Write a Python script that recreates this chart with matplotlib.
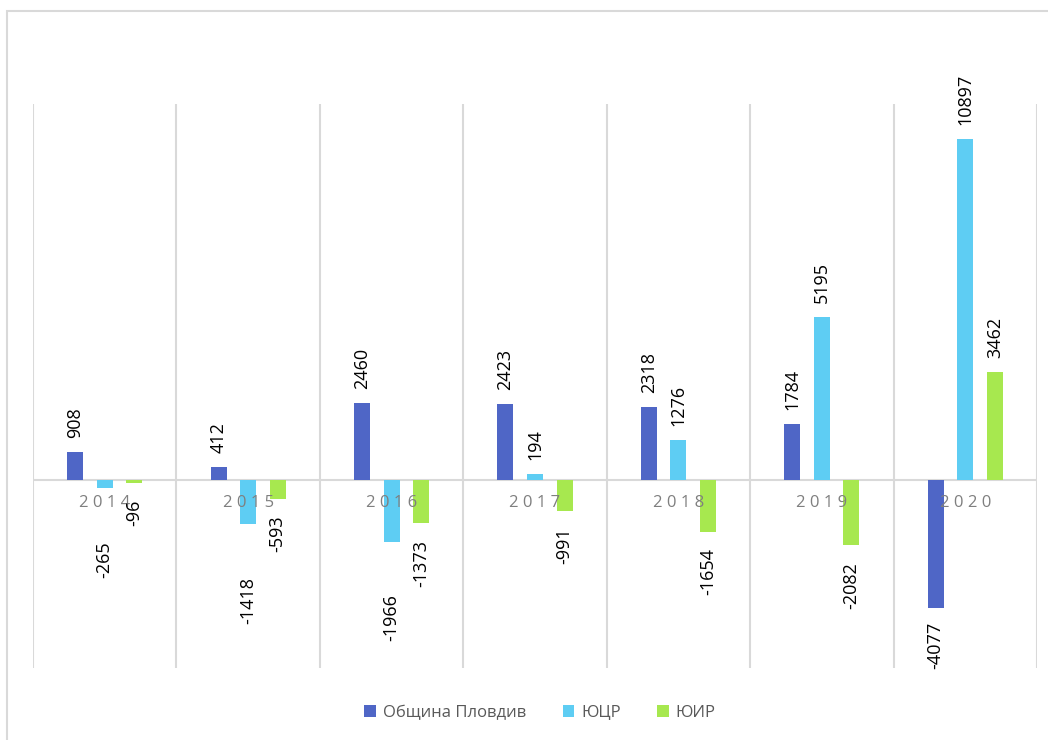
import numpy as np
import matplotlib
matplotlib.use('Agg')
import matplotlib.pyplot as plt
from matplotlib.patches import Rectangle

plt.rcParams['font.family'] = ['Open Sans', 'DejaVu Sans']

years = ['2014', '2015', '2016', '2017', '2018', '2019', '2020']
series_names = ['Община Пловдив', 'ЮЦР', 'ЮИР']
plovdiv = [908, 412, 2460, 2423, 2318, 1784, -4077]
yucr = [-265, -1418, -1966, 194, 1276, 5195, 10897]
yuir = [-96, -593, -1373, -991, -1654, -2082, 3462]

colors = ['#4f66c6', '#5ecdf3', '#a7e84f']
neg_pad = [10, 38, 12]   # label gap below negative bars, points

fig = plt.figure(figsize=(10.48, 7.4), dpi=100)
fig.patches.append(Rectangle((7 / 1048, -0.1), 1.2, 1.1 - 11 / 740, transform=fig.transFigure,
                             facecolor='none', edgecolor='#d9d9d9', linewidth=1.5))
ax = fig.add_axes([33 / 1048, 1 - 668 / 740, (1037 - 33) / 1048, (668 - 104) / 740])

x = np.arange(len(years))
offsets = [-0.206, 0, 0.206]
width = 0.112

for k, vals in enumerate([plovdiv, yucr, yuir]):
    bars = ax.bar(x + offsets[k], vals, width=width, color=colors[k], label=series_names[k], zorder=3)
    for b, v in zip(bars, vals):
        cx = b.get_x() + b.get_width() / 2
        if v >= 0:
            ax.annotate(str(v), (cx, v), xytext=(0, 10), textcoords='offset points',
                        rotation=90, ha='center', va='bottom', fontsize=13, color='black', zorder=5)
        else:
            ax.annotate(str(v), (cx, v), xytext=(0, -neg_pad[k]), textcoords='offset points',
                        rotation=90, ha='center', va='top', fontsize=13, color='black', zorder=5)

# category labels sit on the zero line, above the bars
for i, yr in enumerate(years):
    ax.annotate(' '.join(yr), (i, 0), xytext=(0, -11), textcoords='offset points',
                ha='center', va='top', fontsize=12, color='#7f7f7f', zorder=4)

ax.set_xlim(-0.5, len(years) - 0.5)
ax.set_ylim(-6000, 12000)
for b in np.arange(-0.5, len(years), 1):
    ax.axvline(b, color='#d9d9d9', linewidth=1.5, zorder=1)
ax.axhline(0, color='#d9d9d9', linewidth=1.5, zorder=1)
ax.set_xticks([])
ax.set_yticks([])
for s in ax.spines.values():
    s.set_visible(False)

fig.legend(loc='center', bbox_to_anchor=(540 / 1048, 1 - 713 / 740), ncol=3, frameon=False,
           fontsize=12, labelcolor='#595959', handlelength=0.7, handleheight=0.7,
           handletextpad=0.4, columnspacing=2.2)

fig.savefig('out.png', dpi=100)
